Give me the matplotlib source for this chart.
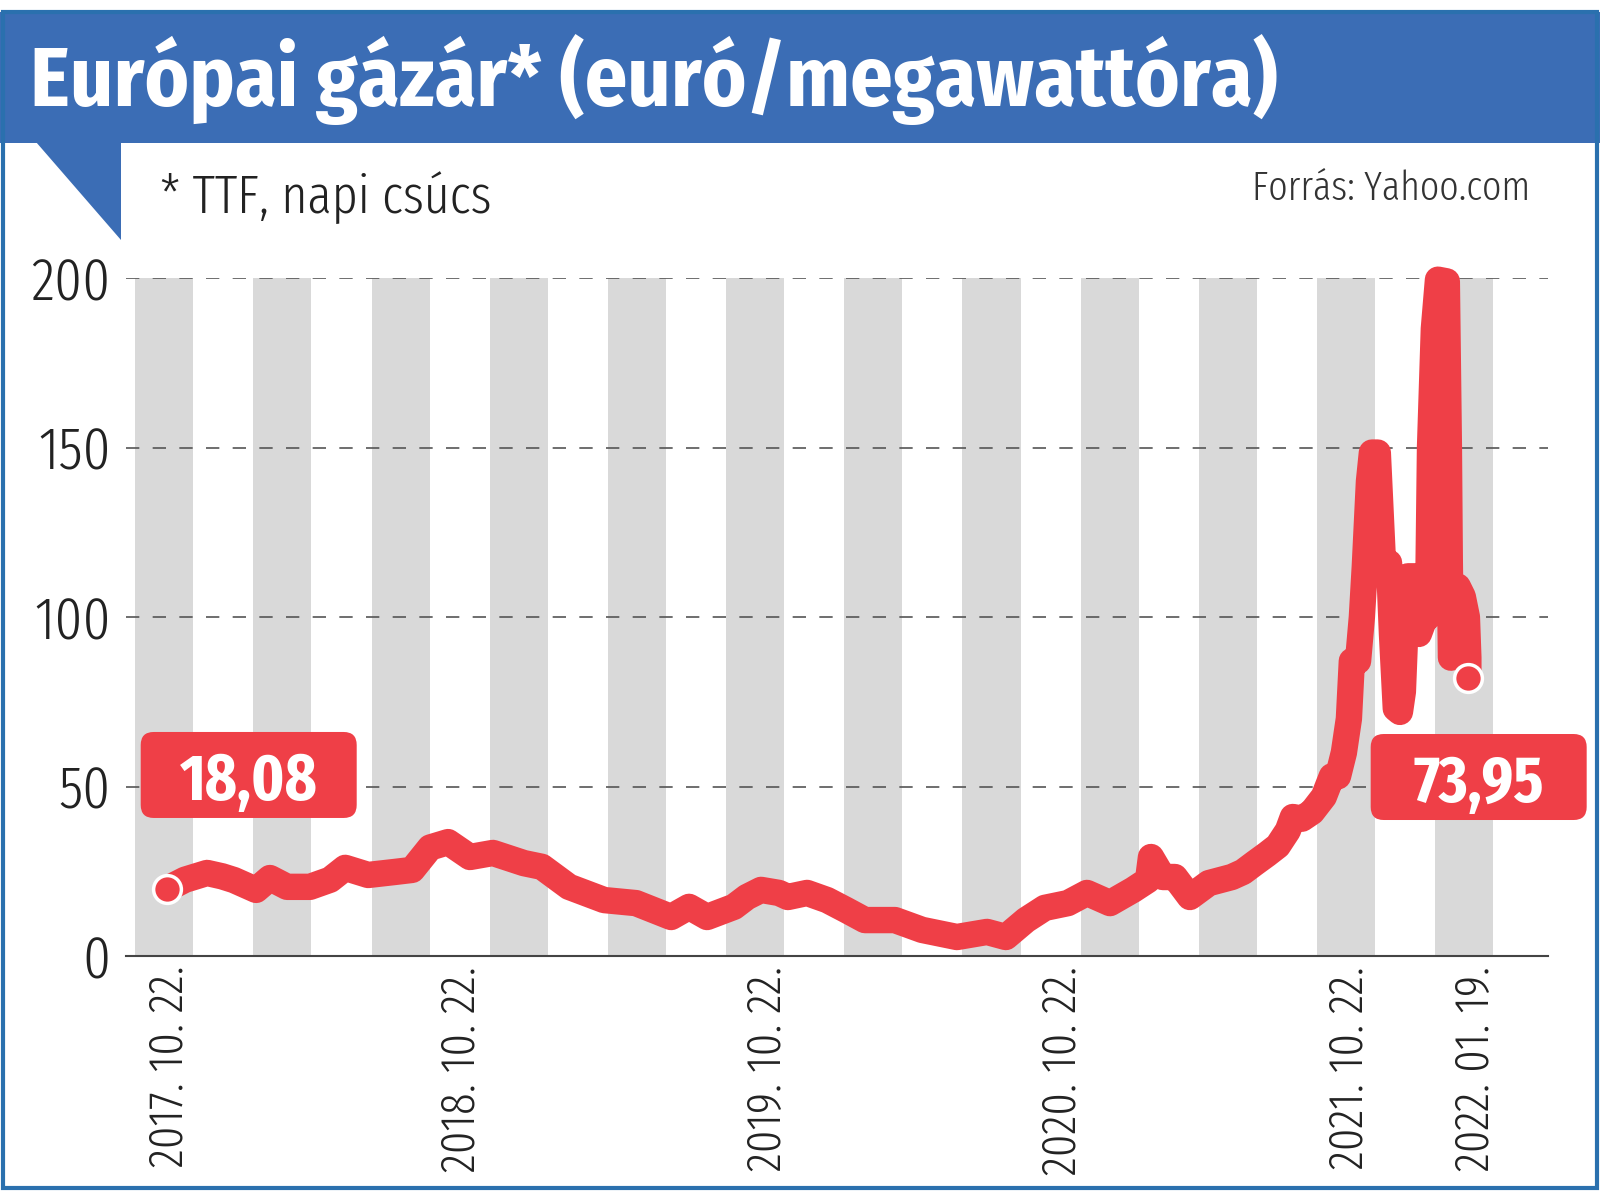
import matplotlib
matplotlib.use('Agg')
import matplotlib.pyplot as plt
import matplotlib.transforms as mtransforms
from matplotlib import font_manager
from matplotlib.patches import Rectangle, Polygon, FancyBboxPatch

# x position in years after 2017.10.22, y = EUR/MWh
pos_years = [-0.007, 0.054, 0.129, 0.180, 0.220, 0.295, 0.342, 0.400, 0.478, 0.546,
             0.597, 0.675, 0.766, 0.824, 0.885, 0.946, 1.020, 1.098, 1.203, 1.264,
             1.356, 1.475, 1.583, 1.702, 1.763, 1.824, 1.915, 1.959, 2.007, 2.068,
             2.098, 2.163, 2.231, 2.295, 2.359, 2.461, 2.553, 2.671, 2.773, 2.837,
             2.905, 2.969, 3.047, 3.112, 3.190, 3.268, 3.319, 3.329, 3.369, 3.410,
             3.461, 3.525, 3.603, 3.641, 3.681, 3.722, 3.759, 3.793, 3.810, 3.841,
             3.875, 3.915, 3.942, 3.963, 3.983, 4.000, 4.010, 4.031, 4.044, 4.054,
             4.068, 4.078, 4.098, 4.108, 4.115, 4.136, 4.146, 4.159, 4.173, 4.183,
             4.193, 4.200, 4.227, 4.237, 4.254, 4.268, 4.275, 4.288, 4.302, 4.332,
             4.339, 4.342, 4.346, 4.359, 4.369, 4.386, 4.400, 4.405, 4.405]
price = [19.8, 22.5, 24.5, 23.5, 22.4, 19.5, 23.0, 20.4, 20.4, 22.5,
         26.0, 23.9, 24.8, 25.4, 32.0, 33.6, 29.2, 30.4, 27.4, 26.3,
         20.4, 16.5, 15.6, 11.5, 14.5, 11.5, 14.5, 17.4, 19.5, 18.6,
         17.4, 18.6, 16.5, 13.6, 10.6, 10.6, 7.7, 5.6, 7.1, 5.6,
         10.6, 14.2, 15.6, 18.6, 15.6, 19.5, 22.4, 29.2, 23.3, 23.3,
         17.4, 21.5, 23.3, 24.8, 27.4, 30.0, 32.5, 37.0, 41.0, 40.5,
         42.5, 47.0, 53.0, 53.0, 60.0, 70.0, 87.0, 87.0, 100.0, 115.0,
         140.0, 148.5, 148.5, 130.0, 117.0, 116.0, 95.0, 73.0, 72.0, 78.0,
         100.0, 112.0, 112.0, 95.0, 99.0, 100.0, 150.0, 185.0, 199.5, 199.0,
         150.0, 117.0, 88.0, 95.0, 109.0, 106.0, 100.0, 88.0, 82.0]

tick_pos = [0, 0.99, 2.03, 3.03, 4.0, 4.43]
tick_labels = ['2017. 10. 22.', '2018. 10. 22.', '2019. 10. 22.', '2020. 10. 22.',
               '2021. 10. 22.', '2022. 01. 19.']
y_ticks = [0, 50, 100, 150, 200]

first_label = '18,08'
last_label = '73,95'

red = '#ef3f47'
blue = '#3b6db5'
border_blue = '#2a70ae'
band_grey = '#d9d9d9'

names = {f.name for f in font_manager.fontManager.ttflist}


def pick(cands):
    for c in cands:
        if c in names:
            return c
    return 'DejaVu Sans'


bold_font = pick(['Fira Sans Condensed', 'Roboto Condensed'])
thin_font = pick(['Fira Sans Extra Condensed', 'Roboto Condensed'])
thin_w = 300

W, H = 1600, 1192
fig = plt.figure(figsize=(W / 100, H / 100), dpi=100)


def fx(x):
    return x / W


def fy(y):
    return 1 - y / H


def fit_width(t, target):
    # scale the font so the text spans the width seen in the reference
    w = t.get_window_extent(fig.canvas.get_renderer()).width
    t.set_fontsize(t.get_fontsize() * target / w)


# header bar, flag and frame
fig.add_artist(Rectangle((0, fy(143)), 1, 131 / H, transform=fig.transFigure,
                         fc=blue, ec='none', zorder=0))
fig.add_artist(Polygon([(fx(36), fy(142)), (fx(121), fy(142)), (fx(121), fy(240))],
                       closed=True, transform=fig.transFigure, fc=blue, ec='none'))
fig.add_artist(Rectangle((fx(3), fy(1188)), fx(1594), (1188 - 12) / H, fill=False,
                         ec=border_blue, lw=3, transform=fig.transFigure))

title = fig.text(fx(30), fy(106), 'Európai gázár* (euró/megawattóra)', color='white',
                 fontsize=56, fontweight='bold', family=bold_font, va='baseline')
sub = fig.text(fx(160), fy(213), '* TTF, napi csúcs', color='#222222', fontsize=40,
               family=thin_font, fontweight=thin_w, va='baseline')
src = fig.text(fx(1530), fy(200), 'Forrás: Yahoo.com', color='#333333', fontsize=30,
               family=thin_font, fontweight=thin_w, va='baseline', ha='right')
fit_width(title, 1248)
fit_width(sub, 331)
fit_width(src, 278)

ax = fig.add_axes([fx(126), fy(956), (1548 - 126) / W, (956 - 278) / H])
ax.set_xlim(-0.146, 4.675)
ax.set_ylim(0, 200)

band_start, band_step, band_width = -0.115, 0.4007, 0.197
for k in range(12):
    x0 = band_start + k * band_step
    ax.axvspan(x0, x0 + band_width, color=band_grey, lw=0, zorder=0)

for v in y_ticks[1:]:
    ax.axhline(v, color='#555555', lw=1.2, linestyle=(0, (8, 8)), zorder=1)

ax.plot(pos_years, price, color=red, lw=19, solid_joinstyle='round',
        solid_capstyle='round', clip_on=False, zorder=3)
for i in [0, -1]:
    ax.plot(pos_years[i], price[i], 'o', ms=20, mfc=red, mec='white', mew=2.5,
            clip_on=False, zorder=4)

# value boxes
label_texts = []
for (bx, by), s in [((0.27, 53.4), first_label), ((4.44, 52.8), last_label)]:
    tr = fig.dpi_scale_trans + mtransforms.ScaledTranslation(bx, by, ax.transData)
    box = FancyBboxPatch((-1.08, -0.43), 2.16, 0.86,
                         boxstyle='round,pad=0,rounding_size=0.13',
                         fc=red, ec='none', transform=tr, zorder=5, clip_on=False)
    ax.add_patch(box)
    ttr = ax.transData + mtransforms.ScaledTranslation(0, -0.25, fig.dpi_scale_trans)
    label_texts.append(ax.text(bx, by, s, transform=ttr, ha='center', va='baseline',
                               color='white', fontsize=46, fontweight='bold',
                               family=thin_font, zorder=6))
fit_width(label_texts[0], 138)
label_texts[1].set_fontsize(label_texts[0].get_fontsize())

for side in ['left', 'right', 'top']:
    ax.spines[side].set_visible(False)
ax.spines['bottom'].set_color('#444444')
ax.spines['bottom'].set_linewidth(1.5)
ax.spines['bottom'].set_zorder(2)

ax.set_yticks(y_ticks)
ax.set_yticklabels([str(v) for v in y_ticks], fontsize=43, family=thin_font,
                   fontweight=thin_w, color='#222222')
ax.set_xticks(tick_pos)
ax.set_xticklabels(tick_labels, rotation=90, fontsize=35, family=thin_font,
                   fontweight=thin_w, color='#222222', va='top', ha='center')
ax.tick_params(axis='both', length=0)
ax.tick_params(axis='y', pad=11)
ax.tick_params(axis='x', pad=7)

fig.savefig('out.png', dpi=100)
